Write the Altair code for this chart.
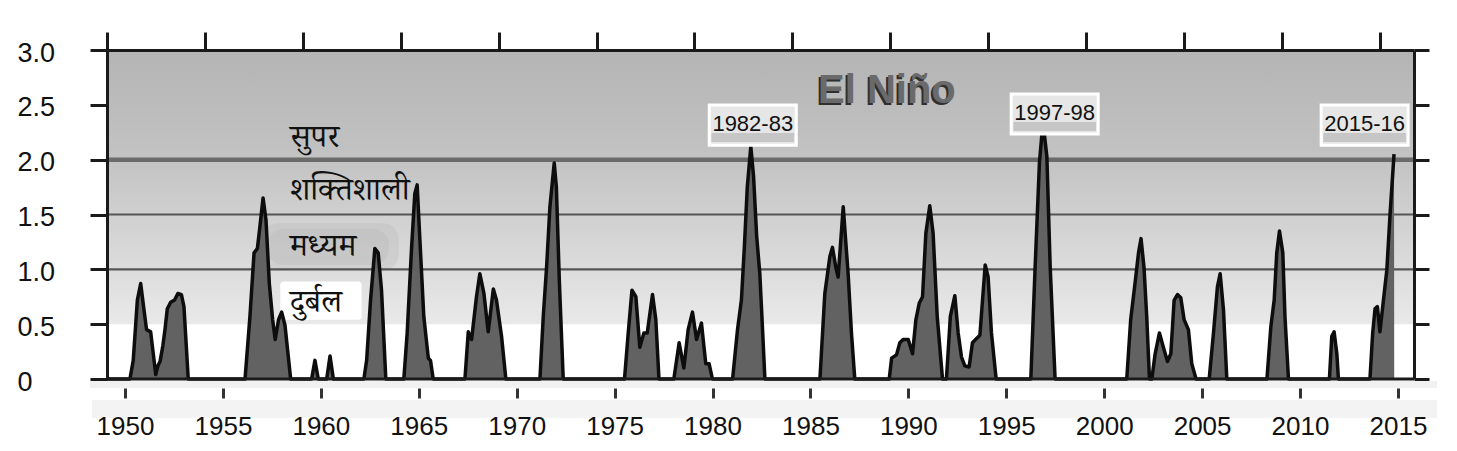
import altair as alt
import pandas as pd

# ---------------- data ----------------
years = [
    1950.00,
    1951.17, 1951.34, 1951.55, 1951.72, 1951.89, 1952.02, 1952.23, 1952.35, 1952.49, 1952.60,
    1952.71, 1952.85, 1952.96, 1953.08, 1953.25, 1953.45, 1953.62, 1953.80, 1953.93, 1954.15,
    1957.05, 1957.30, 1957.51, 1957.68, 1957.81, 1957.97, 1958.12, 1958.29, 1958.46, 1958.59,
    1958.76, 1958.92, 1959.09, 1959.38,
    1960.45, 1960.62, 1960.79, 1961.22, 1961.39, 1961.56,
    1963.12, 1963.26, 1963.46, 1963.68, 1963.85, 1964.02, 1964.24,
    1965.16, 1965.33, 1965.55, 1965.72, 1965.84, 1965.98, 1966.18, 1966.41, 1966.52, 1966.66,
    1968.28, 1968.45, 1968.62, 1968.87, 1969.04, 1969.25, 1969.47, 1969.73, 1969.89, 1970.15, 1970.37,
    1972.11, 1972.28, 1972.45, 1972.62, 1972.84, 1972.95, 1973.10, 1973.30,
    1976.43, 1976.62, 1976.81, 1977.01, 1977.21, 1977.42, 1977.59, 1977.86, 1978.03, 1978.19,
    1978.95, 1979.22, 1979.46, 1979.68, 1979.90, 1980.11, 1980.36, 1980.58, 1980.75, 1980.92,
    1981.95, 1982.20, 1982.40, 1982.55, 1982.70, 1982.88, 1983.02, 1983.18, 1983.34, 1983.48, 1983.60,
    1986.41, 1986.66, 1986.92, 1987.05, 1987.22, 1987.34, 1987.60, 1987.85, 1988.02, 1988.19,
    1989.95, 1990.07, 1990.32, 1990.49, 1990.66, 1990.92, 1991.14, 1991.31, 1991.48, 1991.65,
    1991.82, 1992.02, 1992.19, 1992.40, 1992.67,
    1992.87, 1993.07, 1993.30, 1993.47, 1993.64, 1993.81, 1994.03, 1994.20, 1994.41, 1994.58,
    1994.85, 1995.00, 1995.17, 1995.41,
    1997.18, 1997.40, 1997.62, 1997.74, 1997.86, 1998.00, 1998.17, 1998.42,
    2002.08, 2002.28, 2002.50, 2002.68, 2002.81, 2002.96, 2003.10, 2003.24,
    2003.36, 2003.53, 2003.75, 2003.95, 2004.16, 2004.33, 2004.50, 2004.67, 2004.84, 2005.01,
    2005.23, 2005.40, 2005.62,
    2006.29, 2006.51, 2006.71, 2006.85, 2007.02, 2007.19,
    2009.24, 2009.44, 2009.61, 2009.74, 2009.88, 2010.05, 2010.16, 2010.34,
    2012.43, 2012.55, 2012.67, 2012.81, 2012.89,
    2014.50, 2014.64, 2014.76, 2014.88, 2015.01, 2015.19, 2015.36, 2015.53, 2015.73, 2015.74,
]
oni = [
    0.00,
    0.00, 0.17, 0.72, 0.87, 0.63, 0.45, 0.43, 0.25, 0.04, 0.12,
    0.16, 0.30, 0.45, 0.64, 0.70, 0.72, 0.78, 0.77, 0.66, 0.00,
    0.00, 0.57, 1.15, 1.19, 1.39, 1.65, 1.45, 0.87, 0.54, 0.36,
    0.54, 0.61, 0.49, 0.00,
    0.00, 0.17, 0.00, 0.00, 0.21, 0.00,
    0.00, 0.17, 0.72, 1.19, 1.15, 0.81, 0.00,
    0.00, 0.42, 1.18, 1.69, 1.77, 1.27, 0.57, 0.19, 0.17, 0.00,
    0.00, 0.43, 0.36, 0.75, 0.96, 0.78, 0.43, 0.82, 0.72, 0.39, 0.00,
    0.00, 0.57, 1.02, 1.57, 1.97, 1.75, 0.90, 0.00,
    0.00, 0.42, 0.81, 0.75, 0.29, 0.42, 0.42, 0.77, 0.54, 0.00,
    0.00, 0.33, 0.10, 0.45, 0.61, 0.36, 0.51, 0.14, 0.14, 0.00,
    0.00, 0.45, 0.72, 1.20, 1.75, 2.12, 1.85, 1.30, 0.96, 0.45, 0.00,
    0.00, 0.78, 1.12, 1.20, 1.02, 0.93, 1.57, 0.96, 0.42, 0.00,
    0.00, 0.19, 0.22, 0.33, 0.36, 0.36, 0.23, 0.54, 0.69, 0.75,
    1.33, 1.58, 1.33, 0.57, 0.00,
    0.00, 0.57, 0.76, 0.42, 0.20, 0.12, 0.11, 0.33, 0.37, 0.40,
    1.04, 0.93, 0.42, 0.00,
    0.00, 1.02, 1.97, 2.22, 2.25, 2.03, 1.02, 0.00,
    0.00, 0.54, 0.87, 1.15, 1.28, 1.02, 0.57, 0.00,
    0.00, 0.23, 0.42, 0.29, 0.16, 0.23, 0.72, 0.77, 0.74, 0.54,
    0.45, 0.14, 0.00,
    0.00, 0.42, 0.84, 0.96, 0.63, 0.00,
    0.00, 0.48, 0.72, 1.15, 1.35, 1.15, 0.57, 0.00,
    0.00, 0.39, 0.43, 0.23, 0.00,
    0.00, 0.42, 0.64, 0.66, 0.43, 0.72, 0.99, 1.51, 2.05, 0.00,
]

tick_years = list(range(1950, 2016, 5))
y_ticks = [0, 0.5, 1.0, 1.5, 2.0, 2.5, 3.0]

zone_bottom = [0.5]
zone_top = [3.0]
thin_levels = [1.0, 1.5]
strong_levels = [2.0]
base_level = [0.0]

cat_labels = ["सुपर", "शक्तिशाली", "मध्यम", "दुर्बल"]
cat_x = [1959.34, 1959.34, 1959.34, 1959.34]
cat_y = [2.21, 1.72, 1.21, 0.70]

ann_labels = ["1982-83", "1997-98", "2015-16"]
ann_x = [1982.98, 1998.40, 2014.23]
ann_y = [2.315, 2.416, 2.315]

title_text = ["El Niño"]
title_x = [1989.83]
title_y = [2.625]

# --------------- frames ---------------
series = pd.DataFrame({"year": years, "oni": oni, "idx": list(range(len(years)))})
zone_df = pd.DataFrame({"lo": zone_bottom, "hi": zone_top})
thin_df = pd.DataFrame({"lvl": thin_levels})
strong_df = pd.DataFrame({"lvl": strong_levels})
base_df = pd.DataFrame({"lvl": base_level})
cat_df = pd.DataFrame({"label": cat_labels, "year": cat_x, "v": cat_y})
ann_df = pd.DataFrame({"label": ann_labels, "year": ann_x, "v": ann_y})
title_df = pd.DataFrame({"label": title_text, "year": title_x, "v": title_y})
blur_df = pd.DataFrame({"x1": [1957.9, 1958.2], "x2": [1964.9, 1964.4],
                        "y1": [0.99, 1.04], "y2": [1.42, 1.37]})
white_df = pd.DataFrame({"x1": [1958.85], "x2": [1963.0], "y1": [0.54], "y2": [0.89]})

W, H = 1307, 329
FONT = "Liberation Sans, Arial, Helvetica, sans-serif"
DEVA = "Noto Serif Devanagari, Lohit Devanagari, Noto Sans Devanagari, FreeSerif, serif"

xs = alt.Scale(domain=[1950, 2016.75], nice=False, zero=False)
ys = alt.Scale(domain=[0, 3], nice=False, zero=False)

top_axis = alt.Axis(orient="top", values=tick_years, labels=False, title=None,
                    ticks=True, tickSize=18, tickWidth=3, tickColor="#1a1a1a",
                    domain=True, domainWidth=3, domainColor="#1a1a1a", grid=False, zindex=2)
left_axis = alt.Axis(orient="left", values=y_ticks, title=None, grid=False,
                     labelExpr="datum.value == 0 ? '0' : format(datum.value, '.1f')",
                     labelAlign="left", labelPadding=73, labelFontSize=27, labelFont=FONT,
                     labelColor="#111111", labelBaseline="middle", labelOffset=3,
                     tickSize=17, tickWidth=3, tickColor="#1a1a1a",
                     domain=True, domainWidth=3, domainColor="#1a1a1a", zindex=2)


def X(field):
    return alt.X(field, type="quantitative", scale=xs, axis=top_axis)


def Y(field):
    return alt.Y(field, type="quantitative", scale=ys, axis=left_axis, stack=None)


# light bands under the plot (decoration)
band1 = alt.Chart(base_df).mark_rect(color="#f1f1f1").encode(
    x=alt.value(-17), x2=alt.value(W + 23), y=alt.value(H + 2), y2=alt.value(H + 9))
band2 = alt.Chart(base_df).mark_rect(color="#f3f3f3").encode(
    x=alt.value(-15), x2=alt.value(W + 23), y=alt.value(H + 21), y2=alt.value(H + 39))

grad = alt.Gradient(gradient="linear",
                    stops=[alt.GradientStop(color="#b4b4b4", offset=0),
                           alt.GradientStop(color="#c3c3c3", offset=0.4),
                           alt.GradientStop(color="#e9e9e9", offset=1)],
                    x1=0, x2=0, y1=0, y2=1)
zone = alt.Chart(zone_df).mark_rect(color=grad).encode(
    x=alt.value(0), x2=alt.value(W), y=Y("hi"), y2=alt.Y2("lo"))

blur = alt.Chart(blur_df).mark_rect(color="#b5b5b5", opacity=0.3, cornerRadius=16).encode(
    x=X("x1"), x2="x2", y=Y("y2"), y2="y1")
white = alt.Chart(white_df).mark_rect(color="#ffffff", cornerRadius=3).encode(
    x=X("x1"), x2="x2", y=Y("y2"), y2="y1")

thin = alt.Chart(thin_df).mark_rule(color="#555555", strokeWidth=2.2).encode(
    x=alt.value(0), x2=alt.value(W), y=Y("lvl"))
strong = alt.Chart(strong_df).mark_rule(color="#6b6b6b", strokeWidth=4.5).encode(
    x=alt.value(0), x2=alt.value(W), y=Y("lvl"))

area = alt.Chart(series).mark_area(color="#626262", opacity=1).encode(
    x=X("year"), y=Y("oni"))
line = alt.Chart(series).transform_filter(
    alt.datum.idx < len(years) - 1
).mark_line(color="#0d0d0d", strokeWidth=3.5, strokeJoin="round").encode(
    x=X("year"), y=Y("oni"))
base = alt.Chart(base_df).mark_rule(color="#1a1a1a", strokeWidth=3).encode(
    x=alt.value(0), x2=alt.value(W), y=Y("lvl"))

cats = alt.Chart(cat_df).mark_text(align="left", baseline="middle", fontSize=32,
                                   font=DEVA, color="#111111").encode(
    x=X("year"), y=Y("v"), text="label")

box_shape = "M-1,-0.46L1,-0.46L1,0.46L-1,0.46Z"
strip_shape = "M-0.95,0.18L0.95,0.18L0.95,0.39L-0.95,0.39Z"
boxes = alt.Chart(ann_df).mark_point(shape=box_shape, size=87 * 87, filled=True,
                                     fill="#e6e6e6", stroke="#ffffff", strokeWidth=3,
                                     opacity=1, fillOpacity=1, strokeOpacity=1).encode(
    x=X("year"), y=Y("v"))
strips = alt.Chart(ann_df).mark_point(shape=strip_shape, size=87 * 87, filled=True,
                                      fill="#c6c6c6", strokeWidth=0, opacity=1).encode(
    x=X("year"), y=Y("v"))
ann_text = alt.Chart(ann_df).mark_text(fontSize=22, font=FONT, color="#111111",
                                       baseline="middle", align="center", dy=-1).encode(
    x=X("year"), y=Y("v"), text="label")

title_shadow = alt.Chart(title_df).mark_text(fontSize=40, font=FONT, fontWeight="bold",
                                             color="#2f2f2f", align="center",
                                             baseline="middle", dx=-2, dy=2).encode(
    x=X("year"), y=Y("v"), text="label")
title_face = alt.Chart(title_df).mark_text(fontSize=40, font=FONT, fontWeight="bold",
                                           color="#6a6a6a", align="center",
                                           baseline="middle").encode(
    x=X("year"), y=Y("v"), text="label")

main = alt.layer(band1, band2, zone, blur, white, thin, strong, area, line, base,
                 cats, boxes, strips, ann_text, title_shadow, title_face)

# bottom (labelled) axis and right axis, on their own scales
bottom_axis = alt.Axis(orient="bottom", values=tick_years, title=None, format="d",
                       labelFontSize=26, labelFont=FONT, labelColor="#111111",
                       labelPadding=15, offset=9, tickSize=10, tickWidth=3,
                       tickColor="#333333", domain=False, grid=False, zindex=2)
right_axis = alt.Axis(orient="right", values=y_ticks, title=None, labels=False,
                      tickSize=15, tickWidth=3, tickColor="#1a1a1a",
                      domain=True, domainWidth=3, domainColor="#1a1a1a", grid=False, zindex=2)
dummy = alt.Chart(base_df).mark_rule(opacity=0).encode(
    x=alt.X("lvl", type="quantitative",
            scale=alt.Scale(domain=[1949.08, 2015.82], nice=False, zero=False),
            axis=bottom_axis),
    y=alt.Y("lvl", type="quantitative", scale=alt.Scale(domain=[0, 3], nice=False),
            axis=right_axis))

chart = alt.layer(main, dummy).resolve_scale(x="independent", y="independent").properties(
    width=W, height=H,
    autosize=alt.AutoSizeParams(type="none"),
    padding={"left": 99, "top": 42, "right": 35, "bottom": 64},
).configure_view(stroke=None).configure(background="white")

chart.save("out.html", embed_options={"renderer": "svg", "actions": False})
